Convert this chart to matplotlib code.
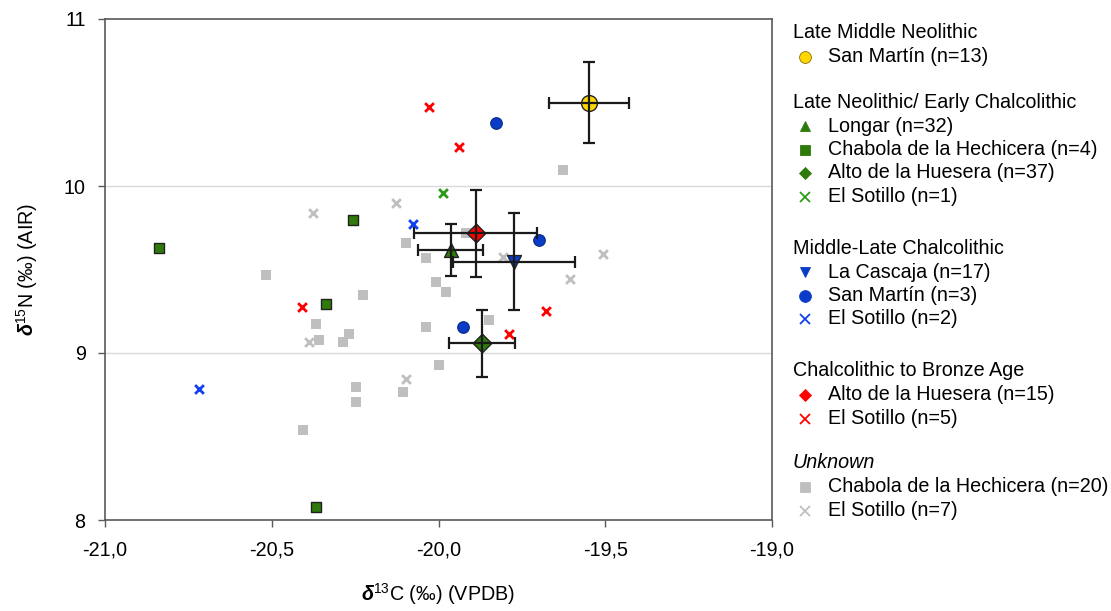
import matplotlib
matplotlib.use("Agg")
import matplotlib.pyplot as plt
from matplotlib.ticker import FixedLocator, FuncFormatter

plt.rcParams['font.family'] = ['Liberation Sans', 'DejaVu Sans']
plt.rcParams['mathtext.fontset'] = 'custom'
plt.rcParams['mathtext.rm'] = 'Liberation Sans'
plt.rcParams['mathtext.bf'] = 'Liberation Sans:bold'
plt.rcParams['mathtext.it'] = 'Liberation Sans:italic'
plt.rcParams['mathtext.bfit'] = 'Liberation Sans:bold:italic'

# ---------------- data ----------------
# Group means with SD (x = d13C, y = d15N)
lmn_sanmartin_mean = (-19.55, 10.50, 0.12, 0.24)
longar_mean = (-19.963, 9.617, 0.097, 0.155)
alto_lnec_mean = (-19.870, 9.058, 0.098, 0.20)
cascaja_mean = (-19.773, 9.547, 0.183, 0.29)
alto_cba_mean = (-19.889, 9.717, 0.183, 0.26)

# Individual values
chabola_lnec_x = [-20.839, -20.257, -20.337, -20.367]
chabola_lnec_y = [9.627, 9.796, 9.295, 8.076]
sotillo_lnec_x = [-19.988]
sotillo_lnec_y = [9.956]
sanmartin_mlc_x = [-19.828, -19.698, -19.927]
sanmartin_mlc_y = [10.375, 9.677, 9.156]
sotillo_mlc_x = [-20.077, -20.719]
sotillo_mlc_y = [9.772, 8.786]
sotillo_cba_x = [-20.028, -19.938, -20.408, -19.678, -19.788]
sotillo_cba_y = [10.475, 10.235, 9.273, 9.253, 9.116]
chabola_unk_x = [-20.517, -20.097, -20.037, -19.628, -19.918, -20.227, -20.367,
                 -20.267, -20.287, -20.357, -20.037, -20.007, -19.977, -19.998,
                 -20.107, -20.247, -20.247, -20.407, -19.848]
chabola_unk_y = [9.467, 9.657, 9.567, 10.096, 9.720, 9.345, 9.176,
                 9.116, 9.066, 9.076, 9.156, 9.425, 9.365, 8.926,
                 8.766, 8.796, 8.707, 8.537, 9.196]
sotillo_unk_x = [-20.127, -20.377, -19.808, -19.506, -19.606, -20.388, -20.097]
sotillo_unk_y = [9.896, 9.837, 9.577, 9.593, 9.443, 9.066, 8.846]

x_ticks = [-21.0, -20.5, -20.0, -19.5, -19.0]
y_ticks = [8, 9, 10, 11]

legend_groups = [
    ("Late Middle Neolithic", False, [("San Martín (n=13)", 'o', '#FFD700')]),
    ("Late Neolithic/ Early Chalcolithic", False, [
        ("Longar (n=32)", '^', '#2E7A0A'),
        ("Chabola de la Hechicera (n=4)", 's', '#2E7A0A'),
        ("Alto de la Huesera (n=37)", 'D', '#2E7A0A'),
        ("El Sotillo (n=1)", 'x', '#2E9A1A')]),
    ("Middle-Late Chalcolithic", False, [
        ("La Cascaja (n=17)", 'v', '#0A3CC8'),
        ("San Martín (n=3)", 'o', '#0A3CC8'),
        ("El Sotillo (n=2)", 'x', '#1040F0')]),
    ("Chalcolithic to Bronze Age", False, [
        ("Alto de la Huesera (n=15)", 'D', '#FF0000'),
        ("El Sotillo (n=5)", 'x', '#FF0000')]),
    ("Unknown", True, [
        ("Chabola de la Hechicera (n=20)", 's', '#BFBFBF'),
        ("El Sotillo (n=7)", 'x', '#BFBFBF')]),
]

FS = 14.2

# ---------------- figure ----------------
W, H = 1111, 611
fig = plt.figure(figsize=(W / 100, H / 100), dpi=100)
ax = fig.add_axes([105 / W, 1 - 520 / H, (772 - 105) / W, (520 - 19) / H])
ax.set_xlim(-21.0, -19.0)
ax.set_ylim(8, 11)

GREEN = '#2E7A0A'
XGREEN = '#2E9A1A'
BLUE = '#0A3CC8'
XBLUE = '#1040F0'
RED = '#FF0000'
GRAY = '#BFBFBF'

for yv in [9, 10]:
    ax.axhline(yv, color='#D9D9D9', lw=1.0, zorder=0)

# individual points
ax.scatter(chabola_unk_x, chabola_unk_y, marker='s', s=42, color=GRAY, lw=0, zorder=2)
ax.scatter(sotillo_unk_x, sotillo_unk_y, marker='x', s=40, color=GRAY, lw=2.0, zorder=2)
ax.scatter(chabola_lnec_x, chabola_lnec_y, marker='s', s=50, color=GREEN, edgecolors='#222222', lw=1.0, zorder=3)
ax.scatter(sotillo_lnec_x, sotillo_lnec_y, marker='x', s=40, color=XGREEN, lw=2.0, zorder=3)
ax.scatter(sanmartin_mlc_x, sanmartin_mlc_y, marker='o', s=70, color=BLUE, edgecolors='#0A2A80', lw=0.8, zorder=3)
ax.scatter(sotillo_mlc_x, sotillo_mlc_y, marker='x', s=40, color=XBLUE, lw=2.0, zorder=3)
ax.scatter(sotillo_cba_x, sotillo_cba_y, marker='x', s=40, color=RED, lw=2.0, zorder=3)

# means with error bars
means = [
    (lmn_sanmartin_mean, 'o', '#FFD700', 130),
    (longar_mean, '^', GREEN, 100),
    (alto_lnec_mean, 'D', GREEN, 90),
    (cascaja_mean, 'v', BLUE, 100),
    (alto_cba_mean, 'D', RED, 90),
]
for (mx, my, sx, sy), mk, col, sz in means:
    ax.scatter([mx], [my], marker=mk, s=sz, color=col, edgecolors='#222222', lw=1.0, zorder=4)
    ax.errorbar([mx], [my], xerr=[sx], yerr=[sy], fmt='none', ecolor='#1A1A1A',
                elinewidth=1.6, capsize=4.5, capthick=1.6, zorder=5)

# axes styling
for sp in ax.spines.values():
    sp.set_color('#595959')
    sp.set_linewidth(1.2)
ax.xaxis.set_major_locator(FixedLocator(x_ticks))
ax.yaxis.set_major_locator(FixedLocator(y_ticks))
ax.xaxis.set_major_formatter(FuncFormatter(lambda v, p: f"{v:.1f}".replace('.', ',')))
ax.yaxis.set_major_formatter(FuncFormatter(lambda v, p: f"{v:.0f}"))
ax.tick_params(axis='both', direction='out', length=5, width=1.0, color='#595959',
               labelsize=FS, pad=9)
ax.tick_params(axis='x', pad=10)
ax.tick_params(top=False, right=False)

ax.set_xlabel(r'$\mathbfit{\delta}^{\mathrm{13}}$C (‰) (VPDB)', fontsize=FS, labelpad=15)
ax.set_ylabel(r'$\mathbfit{\delta}^{\mathrm{15}}$N (‰) (AIR)', fontsize=FS, labelpad=17)

# ---------------- legend panel ----------------
lax = fig.add_axes([780 / W, 0, (W - 780) / W, 1])
lax.set_xlim(0, W - 780)
lax.set_ylim(H, 0)
lax.axis('off')

header_y = [33, 102, 248, 371, 463]
item_step = 23.5
for (title, italic, items), hy in zip(legend_groups, header_y):
    lax.text(13, hy, title, fontsize=FS, va='center', ha='left',
             style='italic' if italic else 'normal')
    for i, (lab, mk, col) in enumerate(items):
        yy = hy + 24 + i * item_step
        if mk == 'x':
            lax.plot([25], [yy], marker='x', ms=7, mew=1.3, color=col, ls='none', clip_on=False)
        else:
            ms = {'o': 8.5, 's': 6.5, 'D': 6.5, '^': 7, 'v': 7}[mk]
            lax.plot([25], [yy], marker=mk, ms=ms, color=col, ls='none', clip_on=False,
                     mec=('#8a7000' if col == '#FFD700' else col), mew=0.6)
        lax.text(48, yy, lab, fontsize=FS, va='center', ha='left')

fig.savefig('out.png', dpi=100)
